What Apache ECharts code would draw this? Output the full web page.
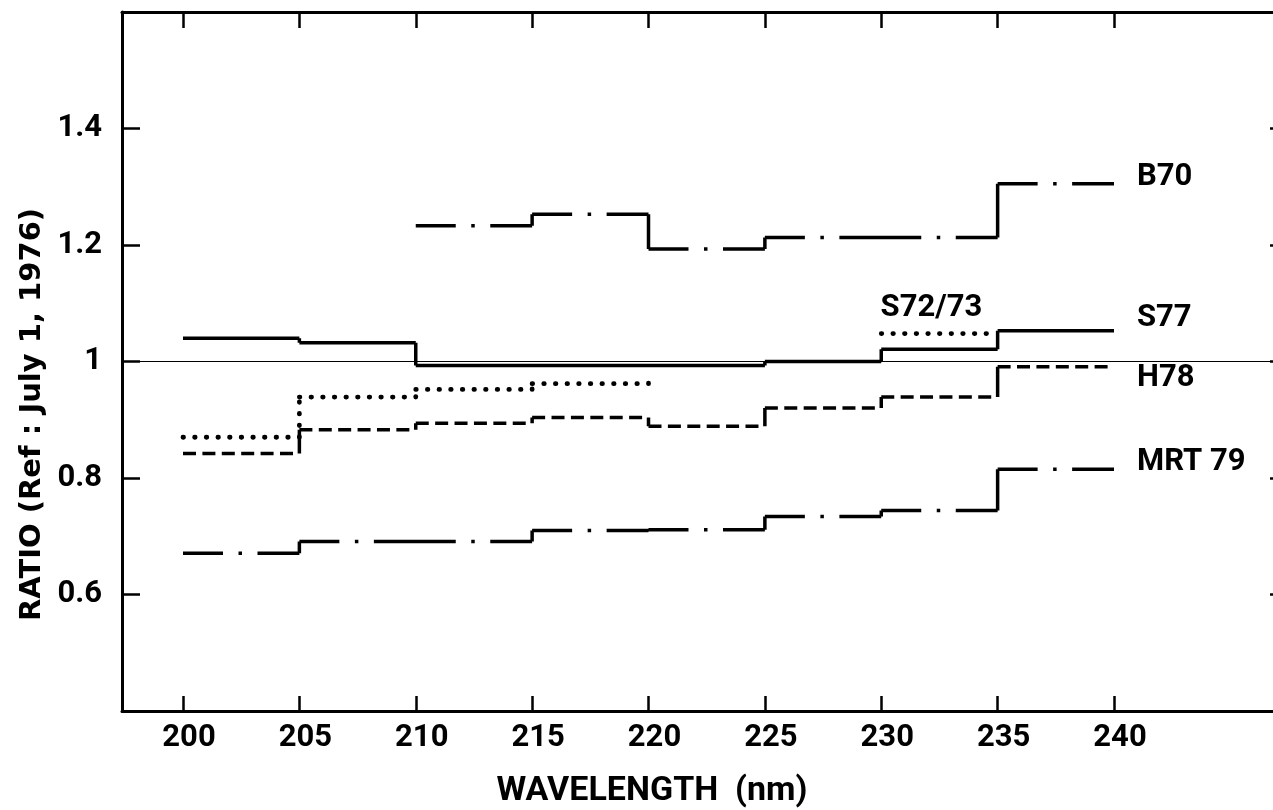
<!DOCTYPE html>
<html>
<head>
<meta charset="utf-8">
<script src="https://cdn.jsdelivr.net/npm/echarts@6/dist/echarts.min.js"></script>
<style>
  html, body { margin: 0; padding: 0; background: #fff; }
  #chart { width: 1273px; height: 810px; }
</style>
</head>
<body>
<div id="chart"></div>
<script>
// ---- data (interval edges in nm, one value per 5 nm interval) ----
const edges = [200, 205, 210, 215, 220, 225, 230, 235, 240];
const B70   = [null,  null,  1.233, 1.253, 1.193, 1.213, 1.213, 1.305];
const S77   = [1.040, 1.032, 0.993, 0.993, 0.993, 1.000, 1.021, 1.053];
const S7273 = [0.870, 0.939, 0.952, 0.962, null,  null,  1.048, null ];
const S7273Tail = { edge: 220, top: 0.980 };
const H78   = [0.842, 0.883, 0.894, 0.904, 0.889, 0.920, 0.939, 0.991];
const MRT79 = [0.671, 0.691, 0.691, 0.710, 0.711, 0.734, 0.744, 0.815];
const refValue = 1;

const xTicks = [200, 205, 210, 215, 220, 225, 230, 235, 240];
const yTicks = [0.6, 0.8, 1, 1.2, 1.4];
const yTickLabels = ['0.6', '0.8', '1', '1.2', '1.4'];

const xMin = 197.379, xMax = 247.304;
const yMin = 0.4, yMax = 1.6;

// ---- helpers to build step pieces from the arrays ----
const GAP = ['-', '-'];
function horizontals(vals) {
  const out = [];
  vals.forEach((v, i) => {
    if (v == null) return;
    if (out.length) out.push(GAP);
    out.push([edges[i], v], [edges[i + 1], v]);
  });
  return out;
}
function verticals(vals) {
  const out = [];
  for (let i = 1; i < vals.length; i++) {
    const a = vals[i - 1], b = vals[i];
    if (a != null && b != null && a !== b) {
      if (out.length) out.push(GAP);
      out.push([edges[i], a], [edges[i], b]);
    }
  }
  return out;
}

const FONT = 'Roboto, "Liberation Sans", sans-serif';
const txt = { color: '#000', fontFamily: FONT, fontWeight: 'bold', fontSize: 31 };

const DASHDOT = [40, 15.5, 3.5, 15.5, 41.875, 0];
const DASHED = [13, 6.396];
const DOTTED = [0.5, 11.1375];
const LW = 3.5;

function hSeries(name, vals, dash, width, cap, label, offset) {
  const s = {
    name: name, type: 'line', data: horizontals(vals),
    showSymbol: false, symbol: 'none', silent: true, connectNulls: false,
    lineStyle: { color: '#000', width: width, type: dash, cap: cap },
    z: 3
  };
  if (label) {
    s.endLabel = Object.assign({ show: true, formatter: label, distance: 23, offset: offset }, txt);
  }
  return s;
}
function vSeries(name, vals, dash, width, cap, extra) {
  const d = verticals(vals);
  if (extra) { if (d.length) d.push(GAP); d.push(...extra); }
  return {
    name: name + ' steps', type: 'line', data: d,
    showSymbol: false, symbol: 'none', silent: true, connectNulls: false,
    lineStyle: { color: '#000', width: width, type: dash, cap: cap },
    z: 3
  };
}

// S72/73 tail at 220 nm
const lastIdx = edges.indexOf(S7273Tail.edge) - 1;
const tailPiece = [[S7273Tail.edge, S7273[lastIdx]], [S7273Tail.edge, S7273Tail.top]];

// S72/73 label position (middle of its 230-235 interval)
const s72i = 6;
const s72Mid = (edges[s72i] + edges[s72i + 1]) / 2;

const axisLineStyle = { color: '#000', width: 3 };
const tickStyle = { color: '#000', width: 2.5 };

const option = {
  animation: false,
  backgroundColor: '#fff',
  grid: { left: 122, top: 12, width: 1162, height: 699, containLabel: false, outerBoundsMode: 'none' },
  xAxis: [
    {
      type: 'value', position: 'bottom', min: xMin, max: xMax,
      axisLine: { show: true, onZero: false, lineStyle: axisLineStyle },
      axisTick: { show: true, inside: true, length: 15, lineStyle: tickStyle, customValues: xTicks },
      axisLabel: Object.assign({ show: true, customValues: xTicks, margin: 12, padding: [0, 0, 0, 12] }, txt),
      splitLine: { show: false },
      name: 'WAVELENGTH  (nm)', nameLocation: 'middle', nameGap: 63,
      nameTextStyle: Object.assign({}, txt, { fontSize: 34, padding: [0, 102, 0, 0] })
    },
    {
      type: 'value', position: 'top', min: xMin, max: xMax,
      axisLine: { show: true, onZero: false, lineStyle: axisLineStyle },
      axisTick: { show: true, inside: true, length: 16, lineStyle: tickStyle, customValues: xTicks },
      axisLabel: { show: false },
      splitLine: { show: false }
    }
  ],
  yAxis: [
    {
      type: 'value', position: 'left', min: yMin, max: yMax,
      axisLine: { show: true, onZero: false, lineStyle: axisLineStyle },
      axisTick: { show: true, inside: true, length: 18, lineStyle: tickStyle, customValues: yTicks },
      axisLabel: Object.assign({
        show: true, customValues: yTicks, margin: 20,
        formatter: function (v) {
          const i = yTicks.findIndex(t => Math.abs(t - v) < 1e-9);
          return i >= 0 ? yTickLabels[i] : '';
        }
      }, txt),
      splitLine: { show: false },
      name: 'RATIO (Ref : July 1, 1976)', nameLocation: 'middle', nameRotate: 90, nameGap: 70,
      nameTextStyle: { color: '#000', fontFamily: '"DejaVu Sans", sans-serif', fontWeight: 'bold', fontSize: 29, padding: [0, 106, 0, 0] }
    },
    {
      type: 'value', position: 'right', min: yMin, max: yMax,
      axisLine: { show: true, onZero: false, lineStyle: axisLineStyle },
      axisTick: { show: true, inside: true, length: 14, lineStyle: tickStyle, customValues: yTicks },
      axisLabel: { show: false },
      splitLine: { show: false }
    }
  ],
  series: [
    {
      name: 'Reference', type: 'line', silent: true, showSymbol: false, symbol: 'none',
      data: [[xMin, refValue], [xMax, refValue]],
      lineStyle: { color: '#000', width: 1.2 }, z: 2
    },
    hSeries('B70', B70, DASHDOT, LW, 'butt', 'B70', [0, -7]),
    vSeries('B70', B70, 'solid', LW, 'butt'),
    hSeries('S77', S77, 'solid', LW, 'butt', 'S77', [0, -12]),
    vSeries('S77', S77, 'solid', LW, 'butt'),
    Object.assign(hSeries('S72/73', S7273, DOTTED, 4.8, 'round'), {
      markPoint: {
        symbol: 'circle', symbolSize: 0, silent: true,
        data: [{ coord: [s72Mid, S7273[s72i]] }],
        label: Object.assign({ show: true, position: 'top', distance: 10, offset: [-8, 0], formatter: 'S72/73' }, txt)
      }
    }),
    vSeries('S72/73', S7273, DOTTED, 4.8, 'round', tailPiece),
    hSeries('H78', H78, DASHED, LW, 'butt', 'H78', [0, 12]),
    vSeries('H78', H78, 'solid', LW, 'butt'),
    hSeries('MRT79', MRT79, DASHDOT, LW, 'butt', 'MRT 79', [0, -7]),
    vSeries('MRT79', MRT79, 'solid', LW, 'butt')
  ]
};

const chart = echarts.init(document.getElementById('chart'), null, { renderer: 'canvas' });
chart.setOption(option);
</script>
</body>
</html>
